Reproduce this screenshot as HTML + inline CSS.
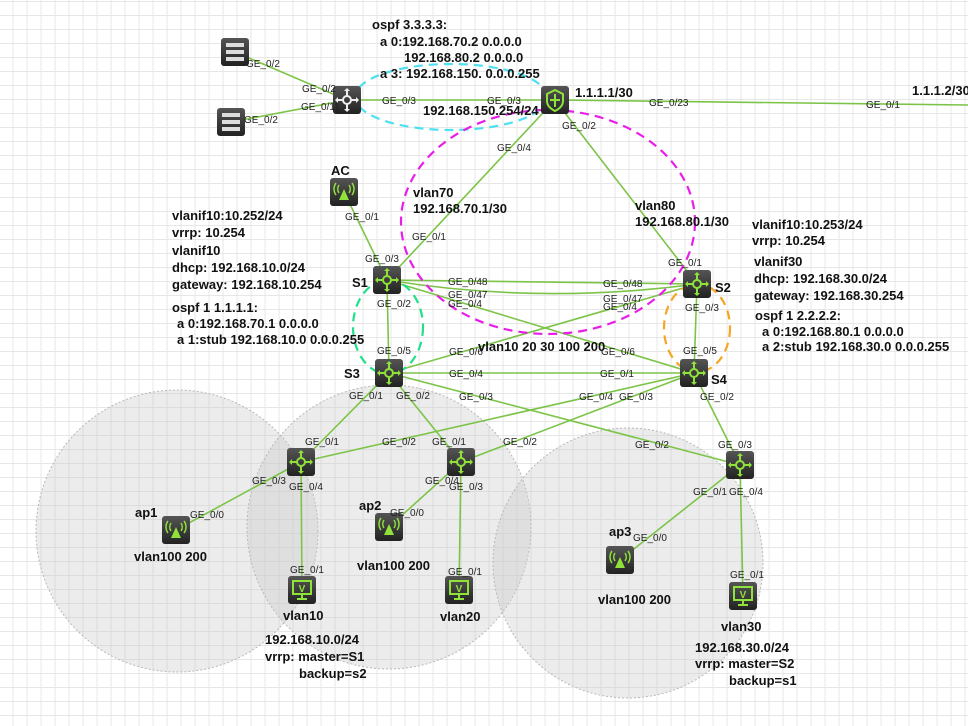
<!DOCTYPE html>
<html><head><meta charset="utf-8"><style>
body{margin:0;background:#fff}
svg{display:block}
.p{font:10px "Liberation Sans",sans-serif;fill:#222}
.b{font:bold 13px "Liberation Sans",sans-serif;fill:#111}
.l{stroke:#7cc448;stroke-width:1.6;fill:none}
</style></head><body>
<svg width="968" height="726" viewBox="0 0 968 726" xmlns="http://www.w3.org/2000/svg">
<defs>
<pattern id="g" x="-0.5" y="2" width="14" height="14" patternUnits="userSpaceOnUse">
<path d="M14 0V14M0 14H14" stroke="#e4e4e4" stroke-width="1.8" fill="none"/>
</pattern>
<linearGradient id="dk" x1="0" y1="0" x2="0" y2="1"><stop offset="0" stop-color="#555"/><stop offset="1" stop-color="#222"/></linearGradient>
<g id="sw"><rect x="-14" y="-14" width="28" height="28" rx="3" fill="url(#dk)"/>
<g stroke="#8fe23a" stroke-width="2" fill="none"><circle r="4"/><path d="M0-10V-4M0 4V10M-10 0H-4M4 0H10"/></g>
<g fill="#8fe23a"><path d="M0-12l-3 3h6zM0 12l-3-3h6zM-12 0l3-3v6zM12 0l-3-3v6z"/></g></g>
<g id="ap"><rect x="-14" y="-14" width="28" height="28" rx="3" fill="url(#dk)"/>
<path d="M0-3L-5 8H5z" fill="#8fe23a"/><g stroke="#8fe23a" stroke-width="1.5" fill="none"><path d="M-5-7a7 7 0 0 0 0 8M5-7a7 7 0 0 1 0 8M-8-9a10 10 0 0 0 0 12M8-9a10 10 0 0 1 0 12"/></g></g>
<g id="pc"><rect x="-14" y="-14" width="28" height="28" rx="3" fill="url(#dk)"/>
<rect x="-9" y="-9" width="18" height="13" fill="none" stroke="#8fe23a" stroke-width="2"/><text x="0" y="2" text-anchor="middle" style="font:bold 10px 'Liberation Sans',sans-serif" fill="#8fe23a">V</text><path d="M-5 9H5M0 4V9" stroke="#8fe23a" stroke-width="2"/></g>
<g id="srv"><rect x="-14" y="-14" width="28" height="28" rx="3" fill="url(#dk)"/>
<g fill="#ddd"><rect x="-9" y="-9" width="18" height="4"/><rect x="-9" y="-2" width="18" height="4"/><rect x="-9" y="5" width="18" height="4"/></g></g>
</defs>
<rect width="968" height="726" fill="url(#g)"/>

<g fill="rgba(200,200,200,0.35)" stroke="#b8b8b8" stroke-dasharray="2,2">
<circle cx="177" cy="531" r="141"/>
<circle cx="389" cy="527" r="142"/>
<circle cx="628" cy="563" r="135"/>
</g>

<g class="l">
<path d="M235 52L347 100M231 122L347 100M347 100L555 100M555 100L968 105"/>
<path d="M555 100L387 280M555 100L697 284M344 192L387 280"/>
<path d="M387 280L697 284"/>
<path d="M387 280Q540 305 697 284"/>
<path d="M387 280L694 373M697 284L389 373"/>
<path d="M387 280L389 373M697 284L694 373"/>
<path d="M389 373L694 373M389 373L740 465M694 373L301 462M694 373L461 462M694 373L740 465"/>
<path d="M389 373L301 462M389 373L461 462"/>
<path d="M301 462L176 530M301 462L302 590M461 462L389 527M461 462L459 590M740 465L620 560M740 465L743 596"/>
</g>

<g fill="none" stroke-width="2.2" stroke-dasharray="9,6">
<ellipse cx="451" cy="97" rx="96" ry="33" stroke="#4fe0f0"/>
<ellipse cx="548" cy="222" rx="147" ry="112" stroke="#e81ee8"/>
<ellipse cx="388" cy="327" rx="35" ry="47" stroke="#22e08a"/>
<ellipse cx="697" cy="328" rx="33" ry="44" stroke="#f5a623"/>
</g>

<use href="#srv" x="235" y="52"/>
<use href="#srv" x="231" y="122"/>
<g transform="translate(347,100)"><rect x="-14" y="-14" width="28" height="28" rx="3" fill="url(#dk)"/><g stroke="#eee" stroke-width="2" fill="none"><circle r="4"/><path d="M0-10V-4M0 4V10M-10 0H-4M4 0H10"/></g><g fill="#eee"><path d="M0-12l-3 3h6zM0 12l-3-3h6zM-12 0l3-3v6zM12 0l-3-3v6z"/></g></g>
<g transform="translate(555,100)"><rect x="-14" y="-14" width="28" height="28" rx="3" fill="url(#dk)"/><path d="M0-10L8-6V1Q8 7 0 11Q-8 7-8 1V-6z" fill="none" stroke="#8fe23a" stroke-width="2"/><path d="M0-6V7M-5 0H5" stroke="#8fe23a" stroke-width="2"/></g>
<use href="#ap" x="344" y="192"/>
<use href="#sw" x="387" y="280"/>
<use href="#sw" x="697" y="284"/>
<use href="#sw" x="389" y="373"/>
<use href="#sw" x="694" y="373"/>
<use href="#sw" x="301" y="462"/>
<use href="#sw" x="461" y="462"/>
<use href="#sw" x="740" y="465"/>
<use href="#ap" x="176" y="530"/>
<use href="#ap" x="389" y="527"/>
<use href="#ap" x="620" y="560"/>
<use href="#pc" x="302" y="590"/>
<use href="#pc" x="459" y="590"/>
<use href="#pc" x="743" y="596"/>

<g class="p">
<text x="246" y="67">GE_0/2</text><text x="302" y="92">GE_0/2</text>
<text x="244" y="123">GE_0/2</text><text x="301" y="110">GE_0/11</text>
<text x="382" y="104">GE_0/3</text><text x="487" y="104">GE_0/3</text>
<text x="649" y="106">GE_0/23</text><text x="866" y="108">GE_0/1</text>
<text x="562" y="129">GE_0/2</text><text x="497" y="151">GE_0/4</text>
<text x="345" y="220">GE_0/1</text><text x="412" y="240">GE_0/1</text>
<text x="365" y="262">GE_0/3</text><text x="668" y="266">GE_0/1</text>
<text x="448" y="285">GE_0/48</text><text x="603" y="287">GE_0/48</text>
<text x="448" y="298">GE_0/47</text><text x="603" y="302">GE_0/47</text>
<text x="448" y="307">GE_0/4</text><text x="603" y="310">GE_0/4</text>
<text x="377" y="307">GE_0/2</text><text x="685" y="311">GE_0/3</text>
<text x="377" y="354">GE_0/5</text><text x="683" y="354">GE_0/5</text>
<text x="449" y="355">GE_0/6</text><text x="601" y="355">GE_0/6</text>
<text x="449" y="377">GE_0/4</text><text x="600" y="377">GE_0/1</text>
<text x="349" y="399">GE_0/1</text><text x="396" y="399">GE_0/2</text>
<text x="459" y="400">GE_0/3</text><text x="579" y="400">GE_0/4</text>
<text x="619" y="400">GE_0/3</text><text x="700" y="400">GE_0/2</text>
<text x="305" y="445">GE_0/1</text><text x="382" y="445">GE_0/2</text>
<text x="432" y="445">GE_0/1</text><text x="503" y="445">GE_0/2</text>
<text x="635" y="448">GE_0/2</text><text x="718" y="448">GE_0/3</text>
<text x="252" y="484">GE_0/3</text><text x="289" y="490">GE_0/4</text>
<text x="425" y="484">GE_0/4</text><text x="449" y="490">GE_0/3</text>
<text x="693" y="495">GE_0/1</text><text x="729" y="495">GE_0/4</text>
<text x="190" y="518">GE_0/0</text><text x="390" y="516">GE_0/0</text>
<text x="633" y="541">GE_0/0</text>
<text x="290" y="573">GE_0/1</text><text x="448" y="575">GE_0/1</text>
<text x="730" y="578">GE_0/1</text>
</g>

<g class="b">
<text x="372" y="29">ospf 3.3.3.3:</text>
<text x="380" y="46">a 0:192.168.70.2 0.0.0.0</text>
<text x="404" y="62">192.168.80.2 0.0.0.0</text>
<text x="380" y="78">a 3:  192.168.150. 0.0.0.255</text>
<text x="423" y="115">192.168.150.254/24</text>
<text x="575" y="97">1.1.1.1/30</text>
<text x="912" y="95">1.1.1.2/30</text>
<text x="331" y="175">AC</text>
<text x="413" y="197">vlan70</text>
<text x="413" y="213">192.168.70.1/30</text>
<text x="635" y="210">vlan80</text>
<text x="635" y="226">192.168.80.1/30</text>
<text x="172" y="220">vlanif10:10.252/24</text>
<text x="172" y="237">vrrp:  10.254</text>
<text x="172" y="255">vlanif10</text>
<text x="172" y="272">dhcp:  192.168.10.0/24</text>
<text x="172" y="289">gateway:  192.168.10.254</text>
<text x="172" y="312">ospf 1 1.1.1.1:</text>
<text x="177" y="328">a 0:192.168.70.1 0.0.0.0</text>
<text x="177" y="344">a 1:stub 192.168.10.0 0.0.0.255</text>
<text x="752" y="229">vlanif10:10.253/24</text>
<text x="752" y="245">vrrp:  10.254</text>
<text x="754" y="266">vlanif30</text>
<text x="754" y="283">dhcp:  192.168.30.0/24</text>
<text x="754" y="300">gateway:  192.168.30.254</text>
<text x="755" y="320">ospf 1 2.2.2.2:</text>
<text x="762" y="336">a 0:192.168.80.1 0.0.0.0</text>
<text x="762" y="351">a 2:stub 192.168.30.0 0.0.0.255</text>
<text x="352" y="287">S1</text>
<text x="715" y="292">S2</text>
<text x="344" y="378">S3</text>
<text x="711" y="384">S4</text>
<text x="478" y="351">vlan10 20 30 100 200</text>
<text x="135" y="517">ap1</text>
<text x="359" y="510">ap2</text>
<text x="609" y="536">ap3</text>
<text x="134" y="561">vlan100 200</text>
<text x="357" y="570">vlan100 200</text>
<text x="598" y="604">vlan100 200</text>
<text x="283" y="620">vlan10</text>
<text x="440" y="621">vlan20</text>
<text x="721" y="631">vlan30</text>
<text x="265" y="644">192.168.10.0/24</text>
<text x="265" y="661">vrrp:  master=S1</text>
<text x="299" y="678">backup=s2</text>
<text x="695" y="652">192.168.30.0/24</text>
<text x="695" y="668">vrrp:  master=S2</text>
<text x="729" y="685">backup=s1</text>
</g>
</svg>
</body></html>
